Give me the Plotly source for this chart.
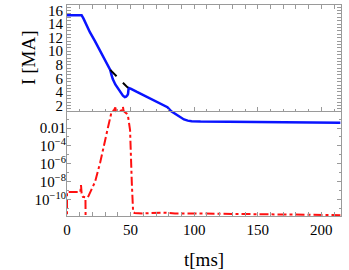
import numpy as np
import plotly.graph_objects as go

# ---- data ----
t_blue = [0, 11.5, 13, 18, 22, 26, 30, 33, 34, 35, 36, 38, 40, 42, 44, 45.5, 46.5, 47.5, 48, 48.5,
          50, 55, 60, 65, 70, 75, 79, 82, 85, 89, 92, 95, 98, 105, 130, 160, 190, 215]
i_blue = [15.3, 15.3, 14.8, 12.8, 11.5, 10.1, 8.8, 7.7, 7.25, 6.5, 5.9, 5.1, 4.5, 3.9, 3.45, 3.25, 3.3, 3.5, 3.7, 4.6,
          4.5, 4.0, 3.55, 3.1, 2.65, 2.2, 1.75, 1.15, 0.8, 0.3, -0.05, -0.22, -0.3, -0.35, -0.4, -0.45, -0.5, -0.52]

t_dash = [34, 48]
i_dash = [7.25, 4.6]

t_red = [0, 0, 10.5, 11, 11.5, 12.5, 14.5, 14.7, None,
         16.5, 22, 26, 30, 32.3, 35, 36, 37, 38, 38.5, 40, 42, 43, 44, 44.5, 46, 47, 48,
         49.6, 51, 52, 53, 60, 75, 85, 100, 150, 200, 215]
v_red = [1e-13, 6.9e-10, 6.9e-10, 4.2e-9, 5e-10, 2e-10, 1.8e-10, 1e-13, None,
         1.9e-10, 9e-9, 1.2e-6, 2.7e-4, 1.3e-2, 0.6, 0.8, 1.0, 2.0, 0.8, 0.9, 0.8, 1.0, 2.4, 0.8, 0.6, 0.4, 0.2,
         6e-3, 6e-9, 4e-12, 3.2e-12, 2.8e-12, 3.5e-12, 2.8e-12, 2.8e-12, 2.5e-12, 2e-12, 1.8e-12]

x_ticks = [0, 50, 100, 150, 200]
i_ticks = [2, 4, 6, 8, 10, 12, 14, 16]
log_ticks = [1e-2, 1e-4, 1e-6, 1e-8, 1e-10]
log_ticktext = ["0.01", "10<sup>−4</sup>", "10<sup>−6</sup>", "10<sup>−8</sup>", "10<sup>−10</sup>"]

# ---- figure ----
FONT = "Liberation Serif"
GRAY = "#9a9a9a"
DIV = 0.4976  # divider between the two panels (paper fraction)

fig = go.Figure()
fig.add_trace(go.Scatter(x=t_blue, y=i_blue, mode="lines", line=dict(color="#0a14ff", width=2.5),
                         xaxis="x", yaxis="y", showlegend=False, hoverinfo="skip"))
fig.add_trace(go.Scatter(x=t_dash, y=i_dash, mode="lines", line=dict(color="black", width=2, dash="dash"),
                         xaxis="x", yaxis="y", showlegend=False, hoverinfo="skip"))
fig.add_trace(go.Scatter(x=t_red, y=v_red, mode="lines", connectgaps=False,
                         line=dict(color="#ff1010", width=2, dash="dashdot"),
                         xaxis="x", yaxis="y2", showlegend=False, hoverinfo="skip"))
# invisible helper so the divider axis is drawn
fig.add_trace(go.Scatter(x=t_blue, y=i_blue, mode="lines", line=dict(width=0), opacity=0,
                         xaxis="x2", yaxis="y", showlegend=False, hoverinfo="skip"))

tickfont = dict(family=FONT, size=15, color="black")

fig.update_layout(
    width=349, height=270,
    margin=dict(l=67, r=8, t=5, b=54, autoexpand=False),
    paper_bgcolor="white", plot_bgcolor="white",
    xaxis=dict(range=[0, 215.5], showgrid=False, zeroline=False, automargin=False,
               showline=True, linecolor=GRAY, linewidth=1, mirror="allticks",
               ticks="inside", ticklen=4, tickcolor=GRAY, tickwidth=1,
               tickmode="array", tickvals=x_ticks, tickfont=tickfont,
               ticklabelstandoff=0,
               minor=dict(ticks="inside", ticklen=2, tickcolor=GRAY, dtick=10, tick0=0, showgrid=False)),
    xaxis2=dict(matches="x", overlaying="x", anchor="free", position=DIV, side="bottom",
                showgrid=False, zeroline=False, showline=True, linecolor=GRAY, linewidth=1,
                automargin=False,
                ticks="inside", ticklen=4, tickcolor=GRAY, tickmode="array", tickvals=x_ticks,
                showticklabels=False,
                minor=dict(ticks="inside", ticklen=2, tickcolor=GRAY, dtick=10, tick0=0, showgrid=False)),
    yaxis=dict(domain=[0, 1], range=[-14.27, 16.81], showgrid=False, zeroline=False, automargin=False,
               showline=True, linecolor=GRAY, linewidth=1, mirror="allticks",
               ticks="inside", ticklen=4, tickcolor=GRAY,
               tickmode="array", tickvals=i_ticks, tickfont=tickfont,
               minor=dict(ticks="inside", ticklen=2, tickcolor=GRAY,
                          tickmode="array", tickvals=list(np.arange(1.5, 16.6, 0.5)), showgrid=False)),
    yaxis2=dict(type="log", overlaying="y", side="left", range=[-11.84, 11.76], automargin=False,
                showgrid=False, zeroline=False, showline=False, mirror="allticks",
                ticks="inside", ticklen=4, tickcolor=GRAY,
                tickmode="array", tickvals=log_ticks, ticktext=log_ticktext, tickfont=tickfont,
                minor=dict(ticks="inside", ticklen=2, tickcolor=GRAY, tickmode="array",
                           tickvals=[1e-1, 1e-3, 1e-5, 1e-7, 1e-9, 1e-11], showgrid=False)),
    annotations=[
        dict(text="I [MA]", textangle=-90, xref="paper", yref="paper", x=-0.139, y=0.749,
             xanchor="center", yanchor="middle", showarrow=False,
             font=dict(family=FONT, size=19, color="black")),
        dict(text="t[ms]", xref="paper", yref="paper", x=0.5, y=-0.204,
             xanchor="center", yanchor="middle", showarrow=False,
             font=dict(family=FONT, size=19, color="black")),
    ],
)

post = ("document.body.style.margin='0';document.body.style.padding='0';"
        "var gd=document.getElementById('{plot_id}');"
        "Plotly.relayout(gd,{width:349,height:270});")
fig.write_html("out.html", post_script=post, config={"displayModeBar": False})
